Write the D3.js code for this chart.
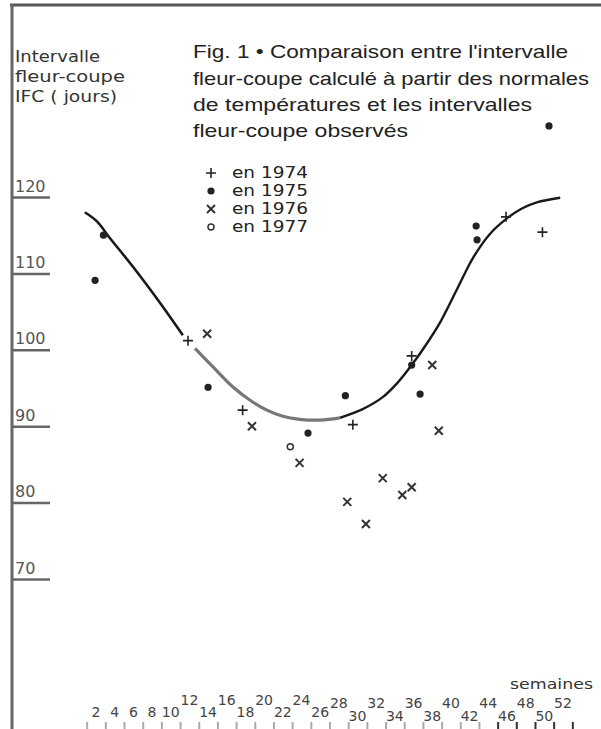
<!DOCTYPE html>
<html>
<head>
<meta charset="utf-8">
<script src="https://cdn.jsdelivr.net/npm/d3@7/dist/d3.min.js"></script>
<style>
  html, body { margin: 0; padding: 0; background: #fff; }
  svg { display: block; font-family: "DejaVu Sans", sans-serif; }
</style>
</head>
<body>
<svg id="chart" width="601" height="729"></svg>
<script>
// ---- Data ----
const yTicks = [70, 80, 90, 100, 110, 120];
const xLabelWeeks = [2,4,6,8,10,12,14,16,18,20,22,24,26,28,30,32,34,36,38,40,42,44,46,48,50,52];
const xTickWeeks = [1,3,5,7,9,11,13,15,17,19,21,23,25,27,29,31,33,35,37,39,41,43,45,47,49,51,53];

// computed curve (IFC from temperature normals), drawn in three pieces
const curveAWeeks = [0.8, 2.1, 3.5, 6, 9, 11.3];
const curveAValues = [118, 116.8, 114.6, 110.8, 105.9, 101.9];
const curveBWeeks = [12.6, 14.5, 16.7, 18.5, 20.3, 22, 23.8, 26, 28.1];
const curveBValues = [100.2, 97.8, 95.1, 93.4, 92.1, 91.3, 90.9, 90.8, 91.1];
const curveCWeeks = [28.1, 30.5, 32.7, 34.3, 35.8, 37.3, 38.8, 40.6, 42.4, 44.2, 46.0, 47.6, 49.2, 51.7];
const curveCValues = [91.1, 92.2, 93.8, 95.7, 98.0, 100.6, 103.5, 107.8, 112.1, 115.2, 117.2, 118.5, 119.3, 119.9];

// observed values
const weeks1974 = [11.85, 17.7, 29.5, 35.8, 45.9, 49.8];
const values1974 = [101.2, 92.1, 90.2, 99.2, 117.4, 115.4];
const weeks1975 = [1.9, 2.8, 14.0, 24.7, 28.7, 35.8, 36.7, 42.7, 42.8, 50.5];
const values1975 = [109.1, 115.0, 95.1, 89.1, 94.0, 98.0, 94.2, 116.2, 114.4, 129.3];
const weeks1976 = [13.9, 18.7, 23.8, 28.9, 30.9, 32.7, 34.8, 35.8, 38.0, 38.7];
const values1976 = [102.1, 90.0, 85.2, 80.1, 77.2, 83.2, 81.0, 82.0, 98.0, 89.4];
const weeks1977 = [22.8];
const values1977 = [87.3];

const titleLines = [
  "Fig. 1 \u2022 Comparaison entre l'intervalle",
  "fleur-coupe calculé à partir des normales",
  "de températures et les intervalles",
  "fleur-coupe observés"
];
const yTitleLines = ["Intervalle", "fleur-coupe", "IFC ( jours)"];
const legendLabels = ["en 1974", "en 1975", "en 1976", "en 1977"];
const legendSymbols = ["plus", "dot", "cross", "ring"];

// ---- Drawing ----
const svg = d3.select("#chart");
const W = 601, H = 729;
svg.append("rect").attr("width", W).attr("height", H).attr("fill", "#fff");

const x = d3.scaleLinear().domain([2, 52]).range([96, 563]);
const y = d3.scaleLinear().domain([70, 120]).range([579, 197]);

// frame
svg.append("line").attr("x1", 10).attr("x2", W).attr("y1", 5).attr("y2", 5)
  .attr("stroke", "#555").attr("stroke-width", 3);
svg.append("line").attr("x1", 12).attr("x2", 12).attr("y1", 4).attr("y2", H)
  .attr("stroke", "#666").attr("stroke-width", 3);

// y axis ticks
const yAxis = svg.append("g").attr("transform", "translate(12,0)")
  .call(d3.axisRight(y).tickValues(yTicks).tickSize(38).tickFormat(d3.format("d")));
yAxis.select(".domain").remove();
yAxis.selectAll(".tick line").attr("stroke", "#666").attr("stroke-width", 2.5);
yAxis.selectAll(".tick text")
  .attr("x", 3).attr("y", -6).attr("dy", 0)
  .attr("text-anchor", "start")
  .attr("font-size", 16).attr("fill", "#555")
  .attr("font-family", "DejaVu Sans, sans-serif");

// x axis ticks (at odd weeks, pointing up from bottom edge)
const xAxisTicks = svg.append("g").attr("transform", `translate(0,${H})`)
  .call(d3.axisTop(x).tickValues(xTickWeeks).tickSize(7).tickFormat(""));
xAxisTicks.select(".domain").remove();
xAxisTicks.selectAll(".tick line")
  .attr("stroke", (d) => d >= 45 ? "#333" : "#aaa")
  .attr("stroke-width", 2);

// x labels, staggered
const upperSet = new Set([12,16,20,24,28,32,36,40,44,48,52]);
svg.append("g").selectAll("text").data(xLabelWeeks).join("text")
  .attr("x", d => x(d))
  .attr("y", d => upperSet.has(d) ? (d < 26 ? 705 : 708) : (d < 28 ? 717 : 721))
  .attr("text-anchor", "middle")
  .attr("font-size", 14).attr("fill", "#444")
  .text(d => d);

svg.append("text").attr("x", 510).attr("y", 689)
  .attr("font-size", 14).attr("fill", "#333")
  .attr("textLength", 83).attr("lengthAdjust", "spacingAndGlyphs")
  .text("semaines");

// y title
const yTitleLens = [85, 110, 102];
svg.append("g").selectAll("text").data(yTitleLines).join("text")
  .attr("x", 15).attr("y", (d, i) => 62 + i * 20)
  .attr("font-size", 15).attr("fill", "#333")
  .attr("textLength", (d, i) => yTitleLens[i]).attr("lengthAdjust", "spacingAndGlyphs")
  .text(d => d);

// title
const titleLens = [375, 396, 339, 215];
const titleBase = [58, 85, 111, 137];
svg.append("g").selectAll("text").data(titleLines).join("text")
  .attr("x", 193).attr("y", (d, i) => titleBase[i])
  .attr("font-family", "Liberation Sans, Arial, sans-serif")
  .attr("font-size", 19).attr("fill", "#222")
  .attr("textLength", (d, i) => titleLens[i]).attr("lengthAdjust", "spacingAndGlyphs")
  .text(d => d);

// symbol drawing helper
function drawSymbol(g, type, cx, cy) {
  if (type === "plus") {
    g.append("path").attr("d", `M${cx-5},${cy}H${cx+5}M${cx},${cy-5}V${cy+5}`)
      .attr("stroke", "#222").attr("stroke-width", 1.6).attr("fill", "none");
  } else if (type === "dot") {
    g.append("circle").attr("cx", cx).attr("cy", cy).attr("r", 3.6).attr("fill", "#222");
  } else if (type === "cross") {
    g.append("path").attr("d", `M${cx-4},${cy-4}L${cx+4},${cy+4}M${cx+4},${cy-4}L${cx-4},${cy+4}`)
      .attr("stroke", "#333").attr("stroke-width", 2).attr("fill", "none");
  } else if (type === "ring") {
    g.append("circle").attr("cx", cx).attr("cy", cy).attr("r", 3).attr("fill", "none")
      .attr("stroke", "#333").attr("stroke-width", 1.5);
  }
}

// legend
const legendBase = [178, 196, 214, 232];
const legendLens = [76, 76, 76, 76];
const lg = svg.append("g");
legendLabels.forEach((lab, i) => {
  drawSymbol(lg, legendSymbols[i], 211, legendBase[i] - 5);
  lg.append("text").attr("x", 232).attr("y", legendBase[i])
    .attr("font-size", 15).attr("fill", "#222")
    .attr("textLength", legendLens[i]).attr("lengthAdjust", "spacingAndGlyphs")
    .text(lab);
});

// curve
const line = d3.line().x(d => x(d[0])).y(d => y(d[1])).curve(d3.curveCatmullRom.alpha(0.5));
const zip = (a, b) => a.map((v, i) => [v, b[i]]);
svg.append("path").datum(zip(curveAWeeks, curveAValues)).attr("d", line)
  .attr("fill", "none").attr("stroke", "#1a1a1a").attr("stroke-width", 2.6);
svg.append("path").datum(zip(curveBWeeks, curveBValues)).attr("d", line)
  .attr("fill", "none").attr("stroke", "#777").attr("stroke-width", 3.2);
svg.append("path").datum(zip(curveCWeeks, curveCValues)).attr("d", line)
  .attr("fill", "none").attr("stroke", "#1a1a1a").attr("stroke-width", 2.4);

// points
const pg = svg.append("g");
zip(weeks1975, values1975).forEach(d => drawSymbol(pg, "dot", x(d[0]), y(d[1])));
zip(weeks1974, values1974).forEach(d => drawSymbol(pg, "plus", x(d[0]), y(d[1])));
zip(weeks1976, values1976).forEach(d => drawSymbol(pg, "cross", x(d[0]), y(d[1])));
zip(weeks1977, values1977).forEach(d => drawSymbol(pg, "ring", x(d[0]), y(d[1])));
</script>
</body>
</html>
